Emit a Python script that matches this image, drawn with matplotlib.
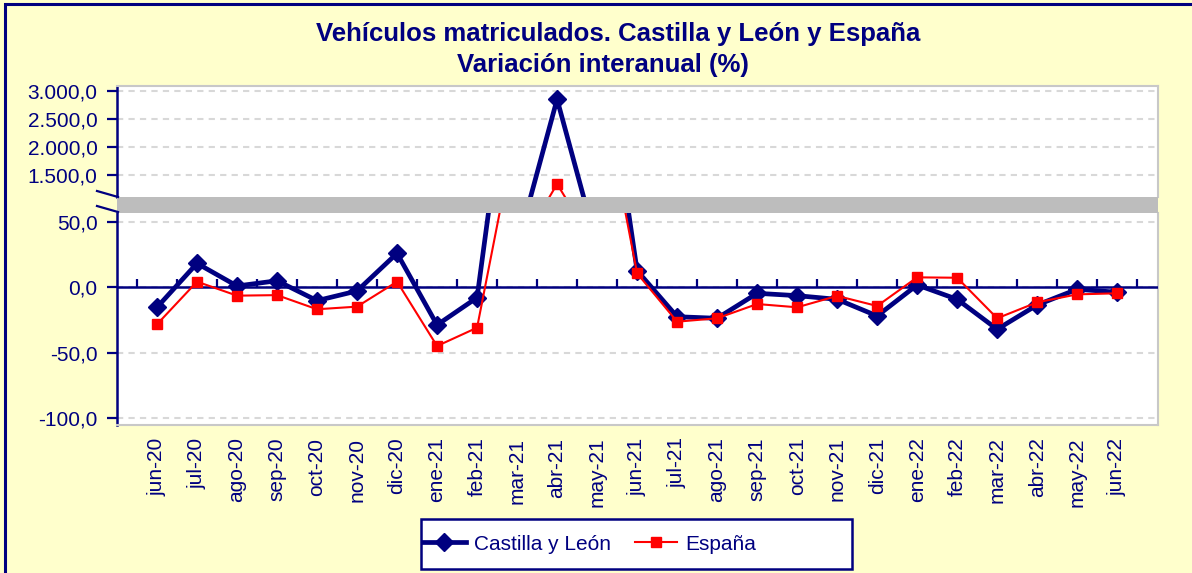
import matplotlib
matplotlib.use("Agg")
import matplotlib.pyplot as plt
from matplotlib.patches import Rectangle
from matplotlib.lines import Line2D

plt.rcParams['font.family'] = ['Liberation Sans', 'DejaVu Sans']

NAVY = '#000080'
RED = '#FF0000'
BG = '#FFFFCC'

meses = ['jun-20', 'jul-20', 'ago-20', 'sep-20', 'oct-20', 'nov-20', 'dic-20',
         'ene-21', 'feb-21', 'mar-21', 'abr-21', 'may-21', 'jun-21', 'jul-21',
         'ago-21', 'sep-21', 'oct-21', 'nov-21', 'dic-21', 'ene-22', 'feb-22',
         'mar-22', 'abr-22', 'may-22', 'jun-22']
castilla_leon = [-15.3, 18.3, 1.0, 5.0, -10.2, -2.8, 26.0, -28.8, -7.9, 220.0,
                 2852.0, 222.0, 12.7, -22.5, -23.7, -4.6, -6.4, -9.2, -21.9,
                 1.8, -9.2, -32.1, -13.5, -1.5, -3.8]
espana = [-28.3, 4.3, -6.4, -6.0, -16.8, -14.8, 4.3, -44.9, -30.9, 125.0,
          1339.0, 170.0, 10.7, -26.3, -23.7, -12.8, -15.3, -6.6, -14.3,
          7.6, 7.3, -23.7, -11.5, -5.4, -4.6]

ticks_sup = [1500, 2000, 2500, 3000]
etiq_sup = ['1.500,0', '2.000,0', '2.500,0', '3.000,0']
ticks_inf = [-100, -50, 0, 50]
etiq_inf = ['-100,0', '-50,0', '0,0', '50,0']

W, H = 1192, 573
fig = plt.figure(figsize=(W / 100, H / 100), dpi=100)
fig.patch.set_facecolor(BG)

def fx(px):
    return px / W

def fy(py):
    return 1 - py / H

# borde del grafico
fig.add_artist(Rectangle((fx(5), fy(H + 10)), 1.2, fy(4) - fy(H + 10),
                         transform=fig.transFigure, fill=False,
                         edgecolor=NAVY, lw=2.2, zorder=0))

left, right = 117, 1158
ax_sup = fig.add_axes([fx(left), fy(197), fx(right - left), (197 - 86) / H])
ax_inf = fig.add_axes([fx(left), fy(425), fx(right - left), (425 - 213) / H])

x = list(range(len(meses)))
for ax in (ax_sup, ax_inf):
    ax.set_facecolor('white')
    ax.plot(x, castilla_leon, color=NAVY, lw=3.4, marker='D', markersize=9.5,
            zorder=4)
    ax.plot(x, espana, color=RED, lw=1.5, marker='s', markersize=7.2,
            zorder=5)
    ax.set_xlim(-1, 25.02)
    ax.spines['left'].set_color(NAVY)
    ax.spines['left'].set_linewidth(1.8)
    ax.spines['right'].set_color('#C8C8C8')
    ax.spines['right'].set_linewidth(1.5)
    ax.tick_params(axis='y', colors=NAVY, labelsize=15, length=7, width=1.6,
                   direction='out', pad=7)
    ax.tick_params(axis='y', labelcolor=NAVY)
    ax.yaxis.grid(True, color='#D8D8D8', linestyle=(0, (3, 2.5)), lw=1.5)
    ax.set_axisbelow(True)

ax_sup.set_ylim(1107, 3089)
ax_sup.set_yticks(ticks_sup)
ax_sup.set_yticklabels(etiq_sup)
ax_sup.set_xticks([])
ax_sup.spines['bottom'].set_visible(False)
ax_sup.spines['top'].set_color('#C8C8C8')
ax_sup.spines['top'].set_linewidth(1.5)

ax_inf.set_ylim(-105.3, 56.8)
ax_inf.set_yticks(ticks_inf)
ax_inf.set_yticklabels(etiq_inf)
ax_inf.spines['top'].set_visible(False)
ax_inf.spines['bottom'].set_color('#C8C8C8')
ax_inf.spines['bottom'].set_linewidth(1.5)
ax_inf.set_xticks(x)
ax_inf.set_xticklabels(meses, rotation=90, fontsize=15, color=NAVY)
ax_inf.tick_params(axis='x', length=0, pad=9)

# eje de categorias en el cero
ax_inf.axhline(0, color=NAVY, lw=1.8, zorder=3)
ax_inf.vlines([k - 0.5 for k in range(len(meses) + 1)], 0, 6.2, color=NAVY,
              lw=1.6, zorder=3)

# banda gris de corte del eje
fig.add_artist(Rectangle((fx(left), fy(213)), fx(right - left), (213 - 197) / H,
                         transform=fig.transFigure, facecolor='#BDBDBD',
                         edgecolor='none', zorder=10))
for y0, y1 in ((191, 197), (206, 212)):
    fig.add_artist(Line2D([fx(97), fx(118)], [fy(y0), fy(y1)],
                          transform=fig.transFigure, color=NAVY, lw=1.6,
                          zorder=11))

# titulo
fig.text(fx(618), fy(34), 'Vehículos matriculados. Castilla y León y España',
         ha='center', va='center', fontsize=18.5, fontweight='bold', color=NAVY)
fig.text(fx(603), fy(65), 'Variación interanual (%)',
         ha='center', va='center', fontsize=18.5, fontweight='bold', color=NAVY)

# leyenda
fig.add_artist(Rectangle((fx(421), fy(569)), fx(852 - 421), (569 - 519) / H,
                         transform=fig.transFigure, facecolor='white',
                         edgecolor=NAVY, lw=1.8, zorder=1))
h1 = Line2D([], [], color=NAVY, lw=3.4, marker='D', markersize=9.5)
h2 = Line2D([], [], color=RED, lw=1.5, marker='s', markersize=7.2)
leg = fig.legend([h1, h2], ['Castilla y León', 'España'], loc='center left',
                 bbox_to_anchor=(fx(423), fy(544)), ncol=2, fontsize=15,
                 frameon=False, handlelength=2.05, handletextpad=0.38,
                 columnspacing=1.15, borderpad=0, borderaxespad=0)
leg.set_zorder(2)
for t in leg.get_texts():
    t.set_color(NAVY)

fig.savefig('out.png', dpi=100, facecolor=BG)
